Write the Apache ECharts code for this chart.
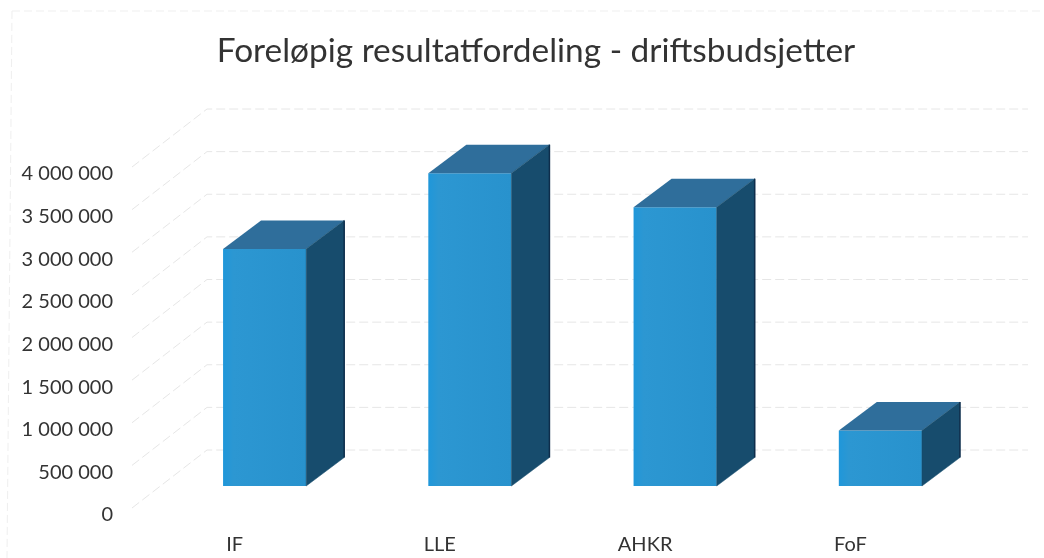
<!DOCTYPE html>
<html>
<head>
<meta charset="utf-8">
<style>html,body{margin:0;padding:0;background:#fff}</style>
<script src="https://cdn.jsdelivr.net/npm/echarts@6/dist/echarts.min.js"></script>
</head>
<body>
<div id="main" style="width:1044px;height:558px"></div>
<script>
const categories = ['IF', 'LLE', 'AHKR', 'FoF'];
const values = [2780000, 3670000, 3270000, 650000];
const yTicks = [0, 500000, 1000000, 1500000, 2000000, 2500000, 3000000, 3500000, 4000000];

// depth of the fake 3D box, in pixels
const wallDx = 75, wallDy = -58;
const barDx = 38, barDy = -28.5;
const barShiftX = 30, barShiftY = -22;

const chart = echarts.init(document.getElementById('main'), null, { renderer: 'canvas' });

function renderWall(params, api) {
  const start = api.coord([0, api.value(1)]);
  const x0 = params.coordSys.x;
  const x1 = x0 + params.coordSys.width;
  return {
    type: 'polyline',
    shape: { points: [[x0, start[1]], [x0 + wallDx, start[1] + wallDy], [x1 + wallDx, start[1] + wallDy]] },
    style: { fill: null, stroke: '#e6e6e6', lineWidth: 1, lineDash: [9, 4] }
  };
}

function renderBar(params, api) {
  const top = api.coord([api.value(0), api.value(1)]);
  const base = api.coord([api.value(0), 0]);
  const w = api.size([1, 0])[0] * 0.405;
  const l = top[0] + barShiftX - w / 2;
  const r = l + w;
  const t = top[1] + barShiftY;
  const b = base[1] + barShiftY;
  return {
    type: 'group',
    children: [
      {
        type: 'rect',
        shape: { x: l, y: t, width: w, height: b - t },
        style: {
          fill: new echarts.graphic.LinearGradient(0, 0, 1, 0, [
            { offset: 0, color: '#1f97da' },
            { offset: 0.12, color: '#2c97d2' },
            { offset: 1, color: '#2892cd' }
          ])
        }
      },
      {
        type: 'polygon',
        shape: { points: [[l, t], [l + barDx, t + barDy], [r + barDx, t + barDy], [r, t]] },
        style: { fill: '#2f6e9b' }
      },
      {
        type: 'polygon',
        shape: { points: [[r, t], [r + barDx, t + barDy], [r + barDx, b + barDy], [r, b]] },
        style: { fill: '#174c6d', stroke: '#174c6d', lineWidth: 0.5 }
      },
      {
        type: 'line',
        shape: { x1: r + barDx, y1: t + barDy, x2: r + barDx, y2: b + barDy },
        style: { stroke: '#0e2d4b', lineWidth: 1.5 }
      }
    ]
  };
}

chart.setOption({
  animation: false,
  backgroundColor: '#fff',
  textStyle: { fontFamily: 'Lato' },
  // faint chart frame left by the scan
  graphic: [{
    type: 'line',
    silent: true,
    shape: { x1: 12, y1: 11, x2: 1044, y2: 11 },
    style: { stroke: '#efefef', lineWidth: 1, lineDash: [8, 4] }
  }, {
    type: 'line',
    silent: true,
    shape: { x1: 12, y1: 11, x2: 7, y2: 558 },
    style: { stroke: '#efefef', lineWidth: 1, lineDash: [8, 4] }
  }],
  title: {
    text: 'Foreløpig resultatfordeling - driftsbudsjetter',
    left: 531,
    top: 30,
    textAlign: 'center',
    textStyle: { fontFamily: 'Lato', fontSize: 33.4, fontWeight: 'normal', color: '#333' }
  },
  grid: { left: 132, right: 91, top: 167, bottom: 50 },
  xAxis: {
    type: 'category',
    data: categories,
    axisLine: { show: false },
    axisTick: { show: false },
    axisLabel: { margin: 27, fontFamily: 'Lato', fontSize: 20, color: '#333' }
  },
  yAxis: {
    type: 'value',
    min: 0,
    max: 4000000,
    interval: 500000,
    axisLine: { show: false },
    axisTick: { show: false },
    splitLine: { show: false },
    axisLabel: {
      margin: 19,
      fontFamily: 'Lato',
      fontSize: 20,
      color: '#333',
      verticalAlign: 'top',
      padding: [-3, 0, 0, 0],
      formatter: v => String(v).replace(/\B(?=(\d{3})+$)/g, ' ')
    }
  },
  series: [
    {
      type: 'custom',
      silent: true,
      z: 1,
      coordinateSystem: 'cartesian2d',
      renderItem: renderWall,
      data: yTicks.map(t => [0, t])
    },
    {
      type: 'custom',
      z: 2,
      coordinateSystem: 'cartesian2d',
      renderItem: renderBar,
      data: values.map((v, i) => [i, v])
    }
  ]
});
</script>
</body>
</html>
